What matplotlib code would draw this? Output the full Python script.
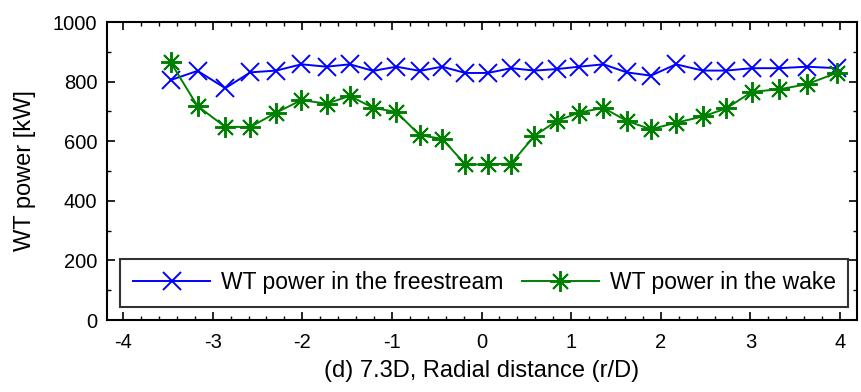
import numpy as np
import matplotlib
matplotlib.use("Agg")
import matplotlib.pyplot as plt
from matplotlib.ticker import MultipleLocator

plt.rcParams['font.family'] = ['Liberation Sans', 'DejaVu Sans']
plt.rcParams['axes.unicode_minus'] = False

# radial positions (r/D)
r = [-3.47, -3.17, -2.86, -2.58, -2.29, -2.01, -1.73, -1.47, -1.21, -0.95,
     -0.69, -0.44, -0.18, 0.07, 0.33, 0.59, 0.84, 1.09, 1.36, 1.62,
     1.89, 2.17, 2.47, 2.73, 3.02, 3.32, 3.63, 3.97]

p_free = [805, 836, 778, 831, 837, 858, 850, 858, 836, 850,
          836, 850, 829, 829, 845, 837, 842, 850, 858, 831,
          820, 858, 837, 837, 845, 845, 850, 845]

p_wake = [865, 718, 648, 648, 696, 738, 726, 752, 712, 698,
          620, 608, 522, 522, 525, 618, 668, 696, 712, 668,
          640, 662, 683, 710, 766, 774, 791, 830]

fig = plt.figure(figsize=(8.62, 3.92), dpi=100)
ax = fig.add_axes([107 / 862, 1 - 320 / 392, 750 / 862, 298 / 392])

ax.plot(r, p_free, color='blue', marker='x', markersize=13, markeredgewidth=1.4,
        linewidth=1.4, label='WT power in the freestream')
ax.plot(r, p_wake, color='green', marker=(8, 2, 0), markersize=15, markeredgewidth=1.4,
        linewidth=1.4, label='WT power in the wake')

ax.set_xlim(-4.18, 4.19)
ax.set_ylim(0, 1000)
ax.xaxis.set_major_locator(MultipleLocator(1))
ax.xaxis.set_minor_locator(MultipleLocator(0.2))
ax.yaxis.set_major_locator(MultipleLocator(200))
ax.yaxis.set_minor_locator(MultipleLocator(100))
ax.tick_params(which='both', direction='in', top=True, right=True, labelsize=14.5)
ax.tick_params(which='major', length=6, width=1.2)
ax.tick_params(which='minor', length=3, width=1)
ax.tick_params(axis='x', pad=9)
ax.tick_params(axis='y', pad=7)
for s in ax.spines.values():
    s.set_linewidth(1.5)

ax.set_xlabel('(d) 7.3D, Radial distance (r/D)', fontsize=17, labelpad=6)
ax.set_ylabel('WT power [kW]', fontsize=17, labelpad=12)

handles, labels = ax.get_legend_handles_labels()
leg = ax.legend(handles, labels, ncol=2, loc='lower left', bbox_to_anchor=(0.0173, 0.0436),
                borderaxespad=0, fontsize=16.5, frameon=True, fancybox=False,
                edgecolor='black', handlelength=3.4, handletextpad=0.45,
                columnspacing=0.8, borderpad=0.55)
leg.get_frame().set_linewidth(1.5)

fig.savefig('out.png', dpi=100)
